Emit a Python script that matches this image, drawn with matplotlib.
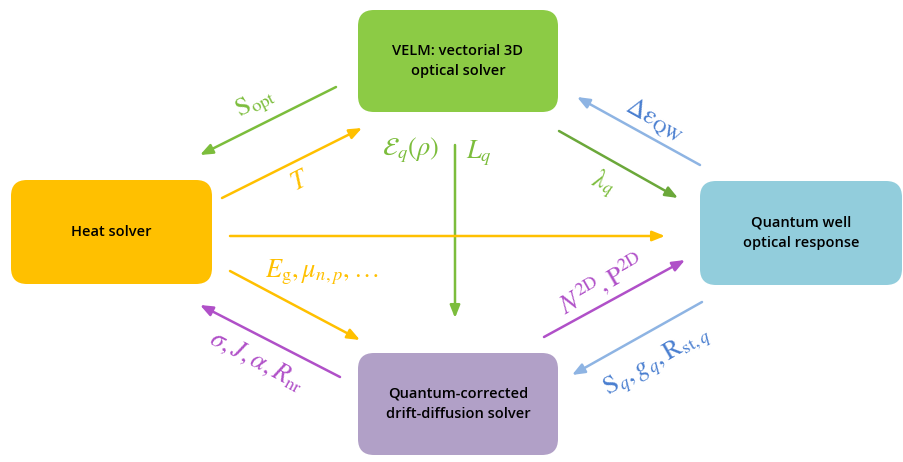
import matplotlib.pyplot as plt
from matplotlib.patches import FancyBboxPatch

plt.rcParams['mathtext.fontset'] = 'stix'

# boxes: label, (left, top, width, height) in pixels, fill colour
box_labels = ["VELM: vectorial 3D\noptical solver", "Heat solver",
              "Quantum well\noptical response",
              "Quantum-corrected\ndrift-diffusion solver"]
box_rects = [(358, 10, 200, 102), (11, 180, 201, 104),
             (700, 181, 202, 104), (358, 353, 200, 102)]
box_colors = ["#8ccb45", "#ffc000", "#92cddc", "#b1a0c7"]

# arrows: tail, head, colour
arrow_tails = [(336, 87), (222, 198), (455, 145), (559, 131), (700, 165),
               (230, 236), (230, 271), (340, 377), (544, 337), (702, 302)]
arrow_heads = [(200, 155), (362, 128), (455, 318), (678, 198), (577, 97),
               (665, 236), (360, 340), (200, 305), (685, 260), (572, 375)]
arrow_colors = ["#7cbd3c", "#ffc000", "#7cbd3c", "#6ba83a", "#8eb4e3",
                "#ffc000", "#ffc000", "#b050c8", "#b050c8", "#8eb4e3"]

# quantity labels: text, centre, rotation, colour
qty_text = [r'$\mathrm{S_{opt}}$', r'$T$', r'$\mathcal{E}_q(\rho)$', r'$L_q$',
            r'$\lambda_q$', r'$\Delta\mathrm{\varepsilon_{QW}}$',
            r'$E_\mathrm{g},\mu_{n,p},\ldots$', r'$\sigma,J,\alpha,R_\mathrm{nr}$',
            r'$N^\mathrm{2D},\mathrm{P}^\mathrm{2D}$',
            r'$\mathrm{S}_q,g_q,\mathrm{R}_{\mathrm{st},q}$']
qty_pos = [(256, 104), (300, 181), (411, 150), (479, 153), (603, 183),
           (654, 120), (322, 272), (257, 361), (602, 284), (657, 362)]
qty_rot = [27, 27, 0, 0, -18, -29, 0, -28, 30, 30]
qty_colors = ["#7cbd3c", "#ffc000", "#7cbd3c", "#7cbd3c", "#7cbd3c",
              "#4a7fd0", "#ffc000", "#b050c8", "#b050c8", "#4a7fd0"]

fig = plt.figure(figsize=(9.04, 4.62), dpi=100)
ax = fig.add_axes([0, 0, 1, 1])
ax.set_xlim(0, 904)
ax.set_ylim(462, 0)
ax.axis('off')

for label, (x, y, w, h), c in zip(box_labels, box_rects, box_colors):
    ax.add_patch(FancyBboxPatch((x, y), w, h,
                                boxstyle="round,pad=0,rounding_size=16",
                                facecolor=c, edgecolor='none'))
    ax.text(x + w / 2, y + h / 2, label, ha='center', va='center',
            fontsize=10.5, fontfamily='Open Sans', fontweight='semibold',
            linespacing=1.55, color='black')

for tail, head, c in zip(arrow_tails, arrow_heads, arrow_colors):
    ax.annotate('', xy=head, xytext=tail,
                arrowprops=dict(arrowstyle='-|>,head_length=0.75,head_width=0.3',
                                color=c, lw=1.8, shrinkA=0, shrinkB=0))

for t, (x, y), r, c in zip(qty_text, qty_pos, qty_rot, qty_colors):
    ax.text(x, y, t, ha='center', va='center', rotation=r,
            rotation_mode='anchor', fontsize=19, color=c)

fig.savefig("out.png", dpi=100, facecolor='white')
